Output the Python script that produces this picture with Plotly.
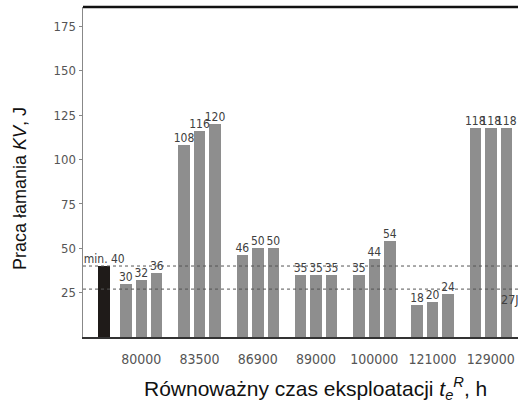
import plotly.graph_objects as go

# ---- data ----
groups = ["80000", "83500", "86900", "89000", "100000", "121000", "129000"]
sample1 = [30, 108, 46, 35, 35, 18, 118]
sample2 = [32, 116, 50, 35, 44, 20, 118]
sample3 = [36, 120, 50, 35, 54, 24, 118]
min_value = 40
min_text = "min. 40"
line_27 = 27
y_ticks = [25, 50, 75, 100, 125, 150, 175]

# ---- layout constants ----
W, H = 518, 408
ML, MR, MT, MB = 83, 0, 7, 71
offset = 0.266
bar_w = 0.197
min_x = 0.365
x_range = [0, 7.467]
y_range = [0, 186]

BAR = "#8e8e8e"
NARROW = "DejaVu Sans Condensed, Liberation Sans Narrow, Arial Narrow, Liberation Sans, sans-serif"
LABEL_C = "#404040"
LABEL_SIZE = 12

centers = list(range(1, len(groups) + 1))
series = [sample1, sample2, sample3]
offs = [-offset, 0, offset]

fig = go.Figure()

# minimum bar
fig.add_trace(go.Bar(x=[min_x], y=[min_value], width=[0.21],
                     marker=dict(color="#1f1b19", line=dict(width=0)),
                     showlegend=False, hoverinfo="skip"))
fig.add_trace(go.Scatter(x=[min_x], y=[min_value], mode="text", text=[min_text],
                         textposition="top center",
                         textfont=dict(family=NARROW, size=LABEL_SIZE, color=LABEL_C),
                         showlegend=False, hoverinfo="skip", cliponaxis=False))

for s, o in zip(series, offs):
    xs = [c + o for c in centers]
    fig.add_trace(go.Bar(x=xs, y=s, width=[bar_w] * len(xs),
                         marker=dict(color=BAR, line=dict(width=0)),
                         showlegend=False, hoverinfo="skip"))
    fig.add_trace(go.Scatter(x=xs, y=s, mode="text", text=[str(v) for v in s],
                             textposition="top center",
                             textfont=dict(family=NARROW, size=LABEL_SIZE, color=LABEL_C),
                             showlegend=False, hoverinfo="skip", cliponaxis=False))

# threshold lines
for yv in (min_value, line_27):
    fig.add_shape(type="line", xref="paper", yref="y", x0=0, x1=1, y0=yv, y1=yv,
                  line=dict(color="#555555", width=1, dash="dot"))

# top border
fig.add_shape(type="line", xref="paper", yref="paper", x0=0, x1=1, y0=1, y1=1,
              line=dict(color="#111111", width=2.5))

fig.add_annotation(x=1, xref="paper", y=line_27, yref="y", text="27J",
                   xanchor="left", yanchor="top", xshift=-19, yshift=-1,
                   showarrow=False,
                   font=dict(family=NARROW, size=LABEL_SIZE + 0.5, color=LABEL_C))

# axis titles (positions given in pixels, converted to paper coords)
fig.add_annotation(x=-(ML - 20) / (W - ML - MR), xref="paper",
                   y=1 - (188 - MT) / (H - MT - MB), yref="paper",
                   text="Praca łamania <i>KV</i>, J", textangle=-90,
                   showarrow=False, xanchor="center", yanchor="middle",
                   font=dict(family="Liberation Sans, Arial, sans-serif", size=18, color="#111111"))
fig.add_annotation(x=(315 - ML) / (W - ML - MR), xref="paper", y=0, yref="paper", yshift=-51,
                   text="Równoważny czas eksploatacji <i>t<sub>e</sub><sup>R</sup></i>, h",
                   showarrow=False, xanchor="center", yanchor="middle",
                   font=dict(family="Liberation Sans, Arial, sans-serif", size=21, color="#111111"))

fig.update_layout(
    width=W, height=H,
    margin=dict(l=ML, r=MR, t=MT, b=MB, pad=0, autoexpand=False),
    paper_bgcolor="white", plot_bgcolor="white",
    bargap=0, barmode="overlay", showlegend=False,
    xaxis=dict(range=x_range, tickvals=centers, ticktext=groups, tickangle=0,
               automargin=False,
               showgrid=False, zeroline=False, showline=True,
               linecolor="#333333", linewidth=2, ticks="",
               tickfont=dict(family=NARROW, size=14, color="#555555"),
               ticklabelstandoff=8),
    yaxis=dict(range=y_range, tickvals=y_ticks, showgrid=False, zeroline=False,
               automargin=False,
               showline=True, linecolor="#888888", linewidth=1.5,
               ticks="outside", ticklen=3, tickcolor="#888888",
               tickfont=dict(family=NARROW, size=13, color="#555555")),
)

fig.write_html("out.html",
               config={"displayModeBar": False, "staticPlot": True},
               post_script="document.body.style.margin='0';document.body.style.overflow='hidden';")
